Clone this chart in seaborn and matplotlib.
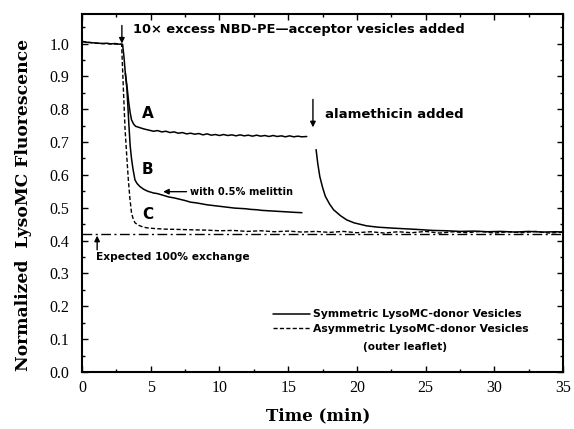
import numpy as np
import pandas as pd
import seaborn as sns
import matplotlib.pyplot as plt
from matplotlib.lines import Line2D
from matplotlib.ticker import MultipleLocator

# Trace A: symmetric donor vesicles (baseline, drop, plateau)
a_time = [0, 0.3, 0.6, 0.9, 1.2, 1.5, 1.8, 2.1, 2.4, 2.7, 2.95, 3.05, 3.15, 3.27,
          3.4, 3.5, 3.6, 3.75, 3.9, 4.2, 4.5, 4.8, 5.2, 5.5, 5.8, 6.1, 6.4, 6.7,
          7.0, 7.3, 7.6, 7.9, 8.2, 8.5, 8.8, 9.1, 9.4, 9.7, 10.0, 10.3, 10.6,
          10.9, 11.2, 11.5, 11.8, 12.1, 12.4, 12.7, 13.0, 13.3, 13.6, 13.9, 14.2,
          14.5, 14.8, 15.1, 15.4, 15.7, 16.0, 16.35]
a_signal = [1.007, 1.004, 1.003, 1.002, 1.001, 1.000, 1.001, 0.999, 1.000, 0.998,
            0.998, 0.96, 0.91, 0.87, 0.82, 0.79, 0.768, 0.755, 0.748, 0.744, 0.740,
            0.737, 0.733, 0.735, 0.731, 0.733, 0.729, 0.731, 0.727, 0.729, 0.725,
            0.727, 0.724, 0.726, 0.722, 0.725, 0.721, 0.723, 0.720, 0.723, 0.720,
            0.722, 0.719, 0.722, 0.719, 0.721, 0.718, 0.721, 0.718, 0.720, 0.717,
            0.720, 0.717, 0.719, 0.716, 0.719, 0.716, 0.718, 0.716, 0.717]

# Trace B: with 0.5% melittin
b_time = [3.15, 3.27, 3.4, 3.5, 3.6, 3.7, 3.85, 4.0, 4.2, 4.5, 4.8, 5.2, 5.5, 5.9,
          6.3, 6.7, 7.1, 7.5, 7.9, 8.3, 8.7, 9.1, 9.5, 9.9, 10.3, 10.7, 11.1,
          11.5, 11.9, 12.3, 12.7, 13.1, 13.5, 13.9, 14.3, 14.7, 15.1, 15.5, 16.0]
b_signal = [0.91, 0.86, 0.76, 0.69, 0.65, 0.62, 0.585, 0.574, 0.565, 0.556, 0.550,
            0.545, 0.543, 0.538, 0.533, 0.530, 0.526, 0.522, 0.517, 0.515, 0.512,
            0.509, 0.507, 0.505, 0.503, 0.501, 0.499, 0.498, 0.497, 0.495, 0.494,
            0.492, 0.491, 0.490, 0.489, 0.488, 0.487, 0.486, 0.485]

# Trace C: asymmetric donor vesicles (outer leaflet)
c_time = [0, 1, 2, 2.88, 3.0, 3.13, 3.25, 3.37, 3.48, 3.6, 3.73, 3.86, 4.1, 4.4,
          4.7, 5.2, 6.0, 7.0, 7.9, 9, 10, 11, 12, 13, 14, 15, 16, 17, 18, 19, 20,
          21, 22, 23, 24, 25, 26, 27, 28, 29, 30, 31, 32, 33, 34, 35]
c_signal = [1.006, 1.001, 0.999, 0.998, 0.87, 0.74, 0.66, 0.585, 0.53, 0.484,
            0.465, 0.454, 0.447, 0.442, 0.439, 0.437, 0.435, 0.434, 0.433, 0.432,
            0.430, 0.431, 0.428, 0.430, 0.427, 0.429, 0.426, 0.428, 0.425, 0.428,
            0.424, 0.427, 0.423, 0.427, 0.424, 0.428, 0.423, 0.427, 0.424, 0.428,
            0.423, 0.427, 0.424, 0.428, 0.423, 0.426]

# Trace A after alamethicin addition
d_time = [17.03, 17.15, 17.3, 17.5, 17.7, 18.0, 18.3, 18.8, 19.26, 19.8, 20.7,
          21.5, 22.6, 23.5, 24.4, 25.5, 26.5, 27.5, 28.5, 29.5, 30.5, 31.5, 32.5,
          33.5, 34.5, 35]
d_signal = [0.677, 0.635, 0.595, 0.562, 0.535, 0.512, 0.494, 0.476, 0.463, 0.454,
            0.445, 0.441, 0.438, 0.436, 0.434, 0.431, 0.430, 0.428, 0.429, 0.427,
            0.428, 0.426, 0.428, 0.426, 0.427, 0.426]

expected_level = 0.42
x_ticks = [0, 5, 10, 15, 20, 25, 30, 35]
y_ticks = [0.0, 0.1, 0.2, 0.3, 0.4, 0.5, 0.6, 0.7, 0.8, 0.9, 1.0]

sns.set_theme(style="ticks")
serif = ["Liberation Serif", "DejaVu Serif"]
label_serif = ["DejaVu Serif"]
sans = ["DejaVu Sans"]
plt.rcParams["font.family"] = serif
plt.rcParams["text.color"] = "black"
plt.rcParams["axes.labelcolor"] = "black"

fig = plt.figure(figsize=(5.74, 4.29), dpi=100)
ax = fig.add_axes([0.1429, 0.1329, 0.8381, 0.8345])

black = "black"
dashed = (0, (3, 1.6))
sns.lineplot(x=a_time, y=a_signal, ax=ax, color=black, lw=1.1, sort=False)
sns.lineplot(x=b_time, y=b_signal, ax=ax, color=black, lw=1.1, sort=False)
sns.lineplot(x=d_time, y=d_signal, ax=ax, color=black, lw=1.1, sort=False)
sns.lineplot(x=c_time, y=c_signal, ax=ax, color=black, lw=1.0, sort=False,
             linestyle=dashed)
ax.axhline(expected_level, color=black, lw=1.0, linestyle=(0, (7, 2.5, 1.5, 2.5)))

ax.set_xlim(0, 35)
ax.set_ylim(0, 1.09)
ax.set_xticks(x_ticks)
ax.set_yticks(y_ticks)
ax.set_xticklabels([str(t) for t in x_ticks])
ax.set_yticklabels([f"{v:.1f}" for v in y_ticks])
ax.xaxis.set_minor_locator(MultipleLocator(2.5))
ax.yaxis.set_minor_locator(MultipleLocator(0.05))
ax.xaxis.set_ticks_position("both")
ax.yaxis.set_ticks_position("both")
ax.tick_params(which="both", direction="in", width=1.0, labelsize=11.5,
               colors=black)
ax.tick_params(which="major", length=4.5)
ax.tick_params(which="minor", length=2.5)
ax.tick_params(axis="y", pad=9)
ax.tick_params(axis="x", pad=6)
for s in ax.spines.values():
    s.set_linewidth(1.5)
    s.set_color(black)

ax.set_xlabel("Time (min)", fontsize=12, fontweight="bold", family=label_serif)
ax.xaxis.set_label_coords(0.49, -0.098)
ax.set_ylabel("Normalized  LysoMC Fluorescence", fontsize=12.3, fontweight="bold",
              family=label_serif)
ax.yaxis.set_label_coords(-0.104, 0.466)

# Annotations
arrow_kw = dict(arrowstyle="-|>", color=black, lw=1.0, mutation_scale=8,
                shrinkA=0, shrinkB=0)
ax.annotate("", xy=(2.9, 1.0), xytext=(2.9, 1.055), arrowprops=arrow_kw)
ax.text(3.7, 1.043, "10\u00d7 excess NBD-PE\u2014acceptor vesicles added",
        fontsize=9.4, fontweight="bold", family=sans, va="center", ha="left")
ax.annotate("", xy=(16.8, 0.745), xytext=(16.8, 0.83), arrowprops=arrow_kw)
ax.text(17.7, 0.784, "alamethicin added", fontsize=9.5, fontweight="bold",
        family=sans, va="center", ha="left")
ax.text(4.8, 0.787, "A", fontsize=11, fontweight="bold", family=sans,
        ha="center", va="center")
ax.text(4.77, 0.616, "B", fontsize=11, fontweight="bold", family=sans,
        ha="center", va="center")
ax.text(4.77, 0.479, "C", fontsize=11, fontweight="bold", family=sans,
        ha="center", va="center")
ax.annotate("", xy=(5.9, 0.549), xytext=(7.6, 0.549), arrowprops=arrow_kw)
ax.text(7.86, 0.549, "with 0.5% melittin", fontsize=7.1, fontweight="bold",
        family=sans, va="center", ha="left")
ax.annotate("", xy=(1.1, 0.415), xytext=(1.1, 0.372), arrowprops=arrow_kw)
ax.text(1.0, 0.35, "Expected 100% exchange", fontsize=7.7, fontweight="bold",
        family=sans, va="center", ha="left")

handles = [Line2D([], [], color=black, lw=1.1),
           Line2D([], [], color=black, lw=1.0, linestyle=dashed)]
leg = ax.legend(handles, ["Symmetric LysoMC-donor Vesicles",
                          "Asymmetric LysoMC-donor Vesicles"],
                loc="upper left", bbox_to_anchor=(0.397, 0.175), frameon=False,
                prop={"family": sans, "weight": "bold", "size": 7.8},
                handlelength=3.4, handletextpad=0.3, labelspacing=0.4,
                borderpad=0, borderaxespad=0)
ax.text(23.47, 0.076, "(outer leaflet)", fontsize=7.6, fontweight="bold",
        family=sans, ha="center", va="center")

fig.savefig("out.png", dpi=100)
